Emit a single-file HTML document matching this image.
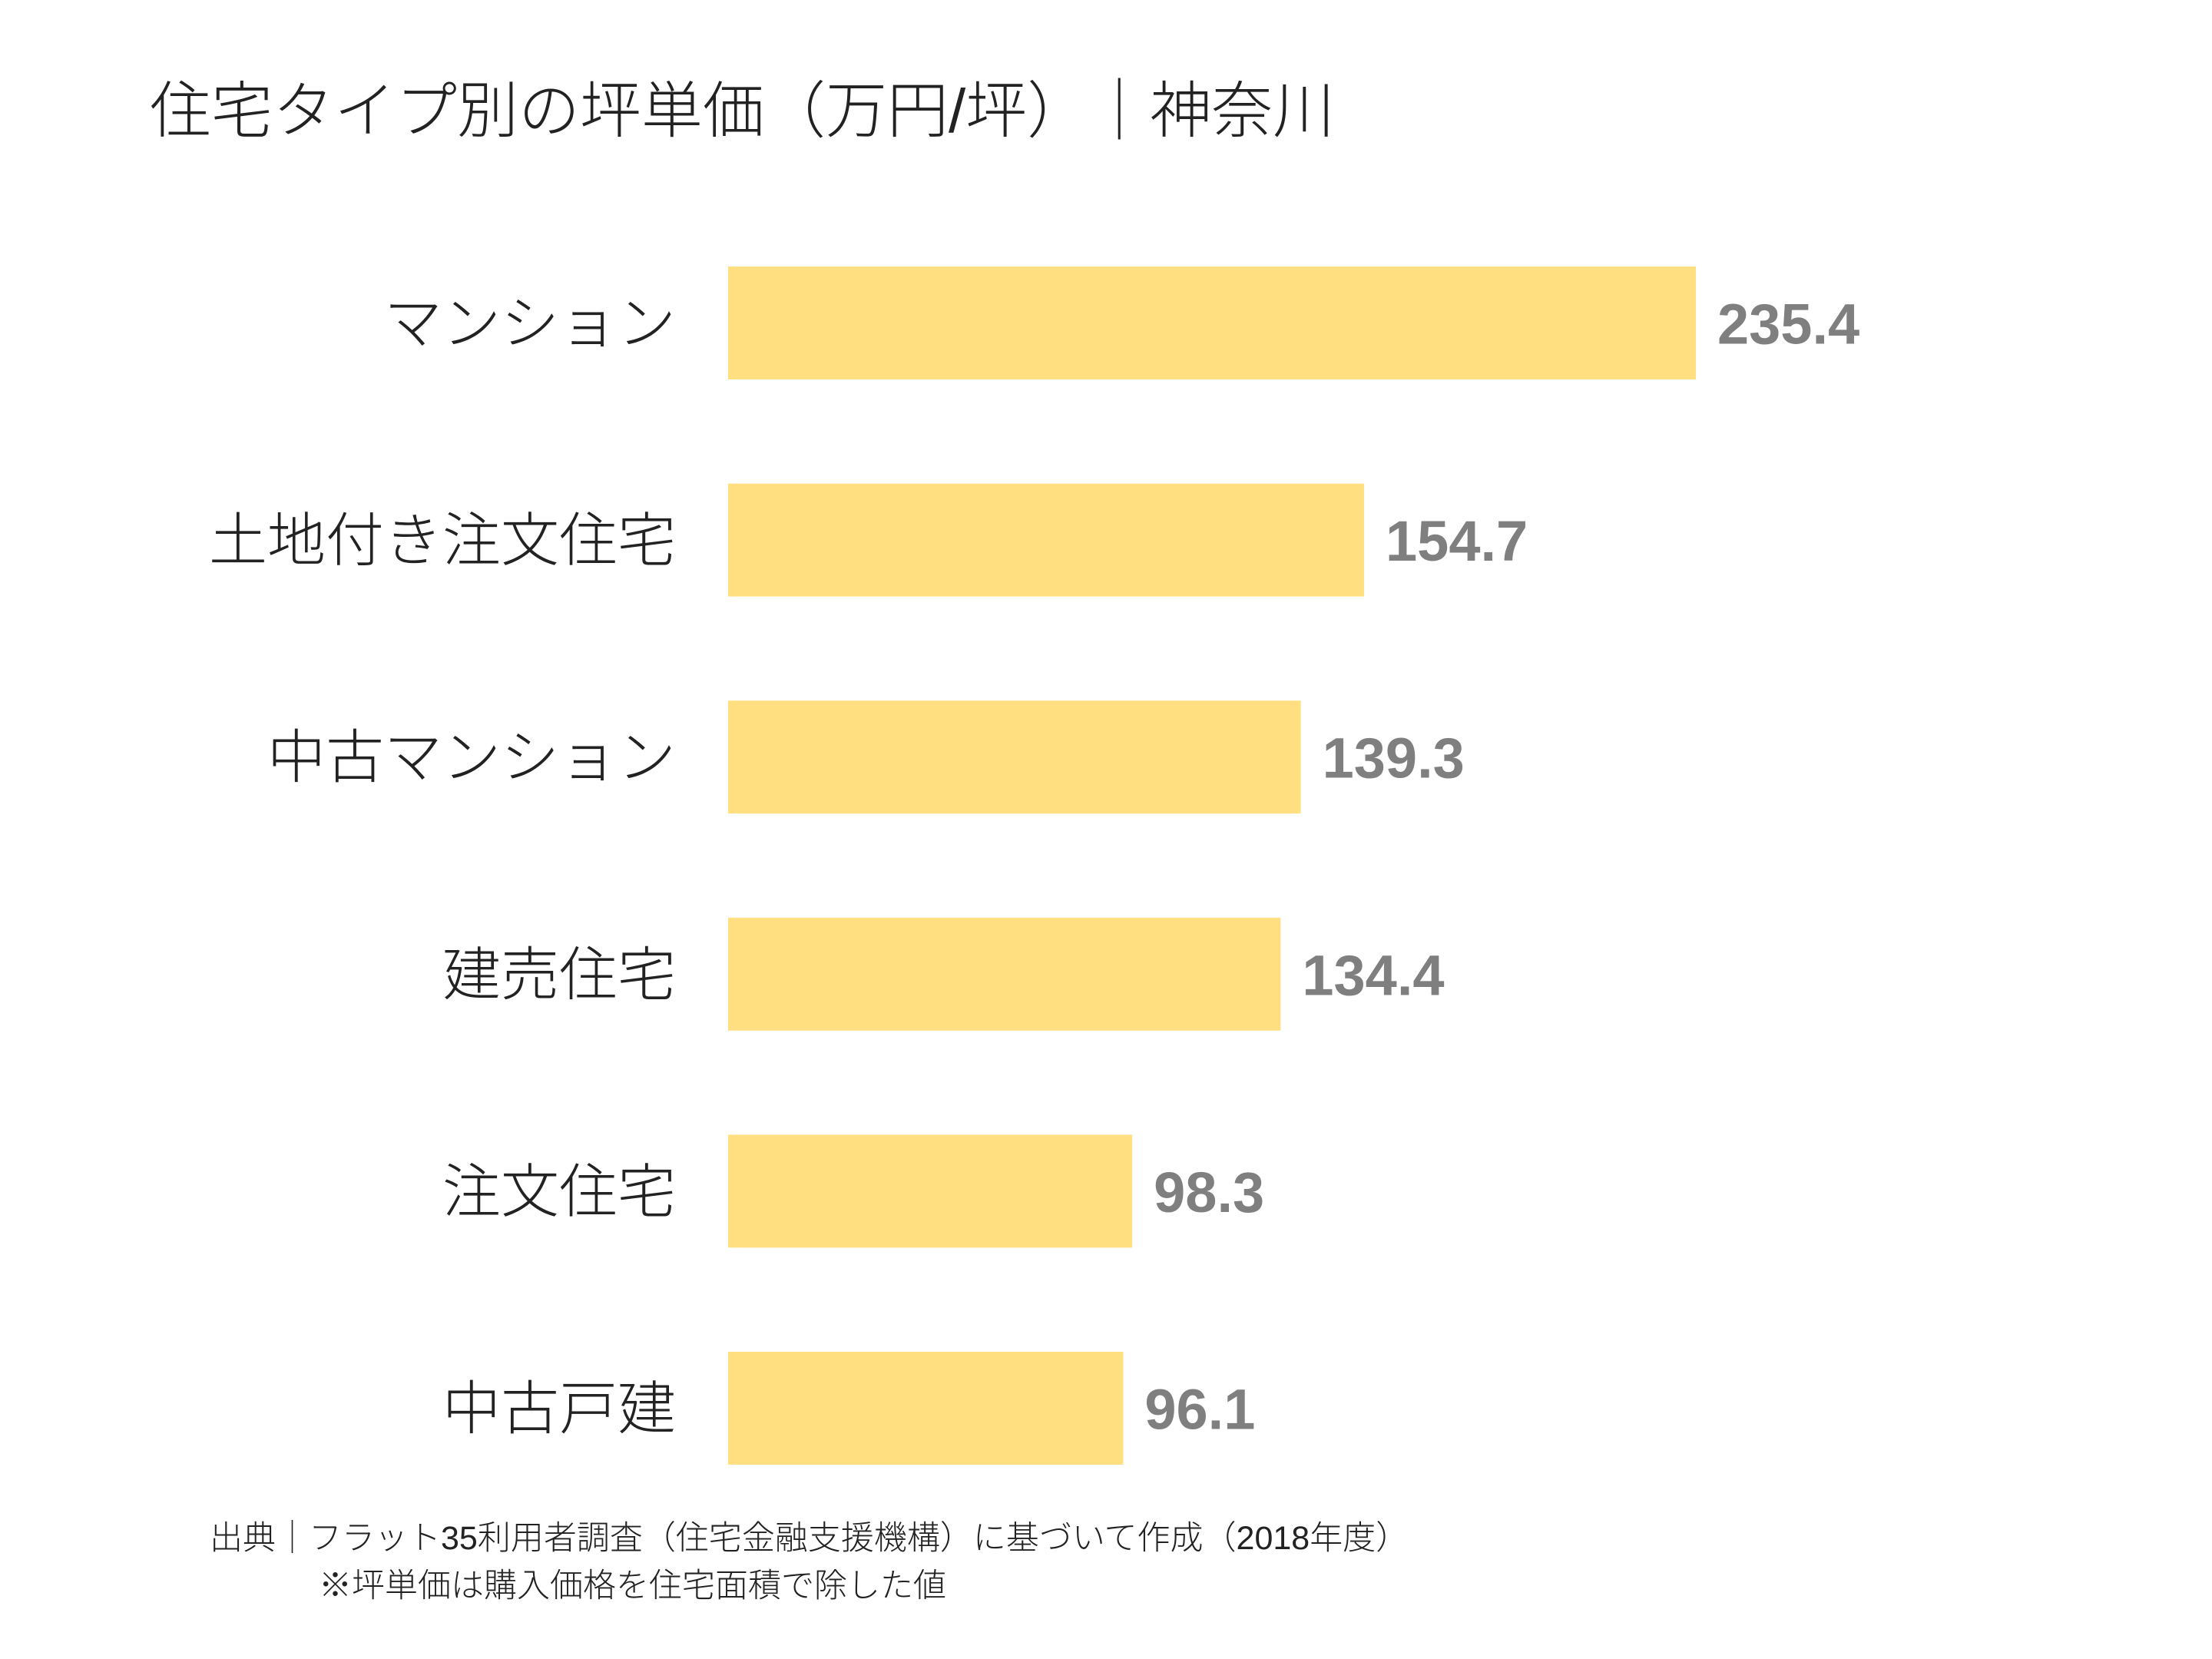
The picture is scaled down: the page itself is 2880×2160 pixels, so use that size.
<!DOCTYPE html>
<html><head><meta charset="utf-8"><style>
body{margin:0;background:#fff;}
#c{position:relative;width:2880px;height:2160px;overflow:hidden;font-family:"Liberation Sans","Noto Sans CJK JP",sans-serif;}
.t{position:absolute;white-space:nowrap;}
</style></head><body>
<div id="c">
<div class="t" style="left:195px;top:95px;font-size:80px;font-weight:300;color:#222;line-height:100px;">住宅タイプ別の坪単価（万円/坪）｜神奈川</div>
<svg id="s" width="2880" height="2160" style="position:absolute;left:0;top:0"></svg>
<div class="t" style="left:273px;top:1975px;font-size:43px;font-weight:300;color:#222;line-height:56px;">出典｜フラット35利用者調査（住宅金融支援機構）に基づいて作成（2018年度）</div>
<div class="t" style="left:415px;top:2037px;font-size:43px;font-weight:300;color:#222;line-height:56px;">※坪単価は購入価格を住宅面積で除した値</div>
</div>
<script>
const categories=["マンション","土地付き注文住宅","中古マンション","建売住宅","注文住宅","中古戸建"];
const values=[235.4,154.7,139.3,134.4,98.3,96.1];
const valueLabels=["235.4","154.7","139.3","134.4","98.3","96.1"];
const NS="http://www.w3.org/2000/svg";
const svg=document.getElementById('s');
const x0=948, pxPerUnit=1260/235.4;
const xScale=v=>v*pxPerUnit;
const yTop=i=>347+i*282.6;
const barH=147;
categories.forEach((c,i)=>{
  const r=document.createElementNS(NS,'rect');
  
  
  r.setAttribute('x',x0);r.setAttribute('y',yTop(i));
  r.setAttribute('width',xScale(values[i]));r.setAttribute('height',barH);
  r.setAttribute('fill','#ffdf80');
  svg.appendChild(r);
  const l=document.createElementNS(NS,'text');
  
  
  l.setAttribute('x',880);l.setAttribute('y',yTop(i)+barH/2+27);
  l.setAttribute('text-anchor','end');l.setAttribute('font-size','76');
  l.setAttribute('font-weight','300');l.setAttribute('fill','#222');
  l.setAttribute('font-family','"Liberation Sans","Noto Sans CJK JP",sans-serif');
  l.textContent=c;svg.appendChild(l);
  const v=document.createElementNS(NS,'text');
  
  
  v.setAttribute('x',x0+xScale(values[i])+28);v.setAttribute('y',yTop(i)+barH/2+27);
  v.setAttribute('font-size','74');v.setAttribute('font-weight','bold');
  v.setAttribute('fill','#7f7f7f');
  v.setAttribute('font-family','"Liberation Sans",sans-serif');
  v.textContent=valueLabels[i];svg.appendChild(v);
});
</script>
</body></html>
